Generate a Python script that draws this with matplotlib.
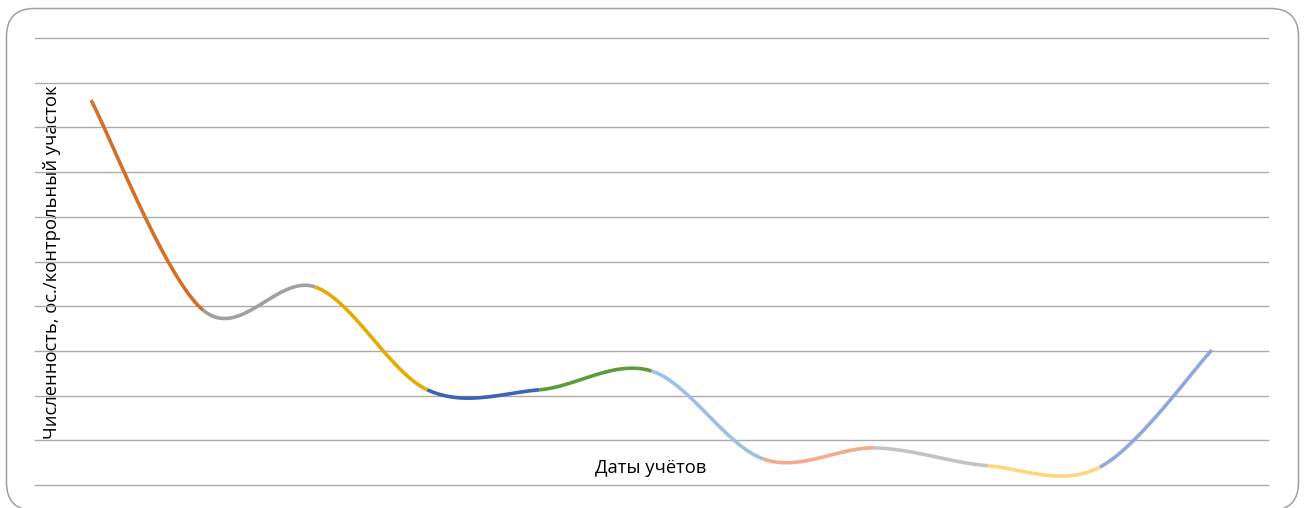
import numpy as np
import matplotlib
matplotlib.use("Agg")
import matplotlib.pyplot as plt
from matplotlib.patches import FancyBboxPatch

# значения численности по датам учётов (оценка по рисунку)
counts = [8.61, 3.91, 4.43, 2.13, 2.13, 2.55, 0.58, 0.83, 0.43, 0.40, 3.02]
seg_colors = ['#D46F28', '#A0A0A0', '#E3AC00', '#3C64B4', '#5E9B3A',
              '#9DC0E6', '#F4AA8C', '#C3C3C3', '#FFD580', '#8FA9DA']
y_label = 'Численность, ос./контрольный участок'
x_label = 'Даты учётов'

plt.rcParams['font.family'] = ['Open Sans', 'DejaVu Sans']

fig = plt.figure(figsize=(13.04, 5.08), dpi=100)

# рамка со скруглёнными углами (в пикселях)
bg = fig.add_axes([0, 0, 1, 1])
bg.set_xlim(0, 1304)
bg.set_ylim(508, 0)
bg.axis('off')
bg.add_patch(FancyBboxPatch((6.5, 8.5), 1292, 502,
                            boxstyle='round,pad=0,rounding_size=28',
                            fc='white', ec='#A0A0A0', lw=1.1))

ax = fig.add_axes([35 / 1304, 23 / 508, 1233 / 1304, 447 / 508])
ax.patch.set_alpha(0)
ax.set_xlim(-0.5, len(counts) - 0.5)
ax.set_ylim(0, 10)
ax.set_yticks(range(11))
ax.set_xticks([])
ax.tick_params(left=False, labelleft=False)
for s in ax.spines.values():
    s.set_visible(False)
ax.grid(axis='y', color='#ABABAB', lw=1.0)
for gl in ax.get_ygridlines():
    gl.set_clip_on(False)
ax.set_axisbelow(True)

# сглаженная линия, как в Excel (кривые Безье по соседним точкам)
xs = np.arange(len(counts), dtype=float)
ys = np.array(counts)
t = np.linspace(0, 1, 40)
n = len(xs)
for i in range(n - 1):
    p0 = np.array([xs[max(i - 1, 0)], ys[max(i - 1, 0)]])
    p1 = np.array([xs[i], ys[i]])
    p2 = np.array([xs[i + 1], ys[i + 1]])
    p3 = np.array([xs[min(i + 2, n - 1)], ys[min(i + 2, n - 1)]])
    c1 = p1 + (p2 - p0) / 6
    c2 = p2 - (p3 - p1) / 6
    tt = t[:, None]
    pts = ((1 - tt) ** 3) * p1 + 3 * ((1 - tt) ** 2) * tt * c1 \
        + 3 * (1 - tt) * tt ** 2 * c2 + tt ** 3 * p2
    ax.plot(pts[:, 0], pts[:, 1], color=seg_colors[i], lw=2.6,
            solid_capstyle='butt')

bg.text(52, 262, y_label, rotation=90, ha='center', va='center',
        fontsize=13.2, color='black')
bg.text(651, 468, x_label, ha='center', va='center',
        fontsize=13.2, color='black')

fig.savefig('out.png', dpi=100)
